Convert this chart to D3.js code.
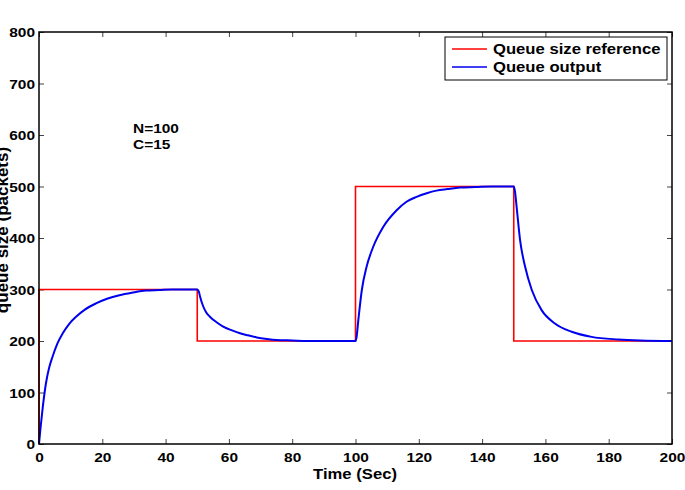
<!DOCTYPE html>
<html>
<head>
<meta charset="utf-8">
<script src="https://cdn.jsdelivr.net/npm/d3@7"></script>
<style>
  body { margin: 0; background: #fff; }
  svg { display: block; }
  text { font-family: "Liberation Sans", Arial, sans-serif; font-weight: bold; fill: #000; }
</style>
</head>
<body>
<script>
// reference queue size (step)
const refTime = [0, 0, 50, 50, 100, 100, 150, 150, 200];
const refSize = [0, 300, 300, 200, 200, 500, 500, 200, 200];

// queue output
const outTime = [0, 0.5, 1.2, 2.2, 3.2, 4.3, 5.8, 7.5, 9.5, 11.7, 14.5, 18, 21.5, 25.4, 29.5, 33.8, 38, 42, 46, 50,
  50.5, 50.9, 51.9, 52.8, 54, 56, 58.2, 60.8, 63.5, 66, 68.8, 72, 75, 80, 85, 90, 95, 100,
  100.3, 100.9, 102, 103.5, 105.6, 108.8, 113, 116, 119.3, 122.5, 125.6, 129, 133, 138, 143, 147, 150,
  150.4, 150.9, 152, 153.6, 155.7, 158.8, 163, 168.3, 174.6, 183, 190, 200];
const outSize = [0, 32, 72, 118, 148, 170, 195, 215, 233, 247, 261, 273, 282, 289, 294, 298, 299, 300, 300, 300,
  296, 286, 267, 256, 247, 237, 228, 221, 215, 211, 207, 204, 202, 201, 200, 200, 200, 200,
  206, 241, 299, 344, 383, 422, 454, 470, 480, 487, 492, 495, 498, 499, 500, 500, 500,
  490, 461, 396, 344, 299, 260, 234, 218, 208, 203, 201, 200];

const xTicks = [0, 20, 40, 60, 80, 100, 120, 140, 160, 180, 200];
const yTicks = [0, 100, 200, 300, 400, 500, 600, 700, 800];
const legendLabels = ['Queue size reference', 'Queue output'];
const notes = ['N=100', 'C=15'];

const width = 685, height = 490;
const plotLeft = 39, plotRight = 672, plotTop = 32, plotBottom = 444;
const sx = 1.19; // labels in the picture are drawn wide

const svg = d3.select('body').append('svg')
    .attr('width', width)
    .attr('height', height);

const x = d3.scaleLinear().domain([0, 200]).range([plotLeft, plotRight]);
const y = d3.scaleLinear().domain([0, 800]).range([plotBottom, plotTop]);

function wide(sel, px, py) {
    sel.attr('x', 0).attr('y', 0).attr('dy', null)
        .attr('transform', 'translate(' + px + ',' + py + ') scale(' + sx + ',1)');
}

// axes with inward ticks on all four sides
const xAxis = svg.append('g')
    .attr('transform', 'translate(0,' + plotBottom + ')')
    .call(d3.axisBottom(x).tickValues(xTicks).tickSize(-5).tickFormat(d3.format('d')));
xAxis.selectAll('text').style('font-size', '13px').each(function() { wide(d3.select(this), 0, 18); });

const yAxis = svg.append('g')
    .attr('transform', 'translate(' + plotLeft + ',0)')
    .call(d3.axisLeft(y).tickValues(yTicks).tickSize(-5).tickFormat(d3.format('d')));
yAxis.selectAll('text').style('font-size', '13px').each(function() { wide(d3.select(this), -4, 4.6); });

svg.append('g')
    .attr('transform', 'translate(0,' + plotTop + ')')
    .call(d3.axisTop(x).tickValues(xTicks).tickSize(-5).tickFormat(''));
svg.append('g')
    .attr('transform', 'translate(' + plotRight + ',0)')
    .call(d3.axisRight(y).tickValues(yTicks).tickSize(-5).tickFormat(''));

svg.selectAll('.domain').remove();
svg.selectAll('.tick line').attr('stroke', '#444').attr('stroke-width', 1);

// lines
const refLine = d3.line().x((d, i) => x(refTime[i])).y((d, i) => y(d));
const outLine = d3.line().x((d, i) => x(outTime[i])).y((d, i) => y(d)).curve(d3.curveMonotoneX);

svg.append('path')
    .attr('d', refLine(refSize))
    .attr('fill', 'none')
    .attr('stroke', '#ff0000')
    .attr('stroke-width', 1.6);

svg.append('path')
    .attr('d', outLine(outSize))
    .attr('fill', 'none')
    .attr('stroke', '#0000ee')
    .attr('stroke-width', 2);

// frame
svg.append('rect')
    .attr('x', plotLeft).attr('y', plotTop)
    .attr('width', plotRight - plotLeft).attr('height', plotBottom - plotTop)
    .attr('fill', 'none').attr('stroke', '#000').attr('stroke-width', 1.5);

// axis titles
svg.append('text')
    .attr('text-anchor', 'middle')
    .style('font-size', '14px')
    .text('Time (Sec)')
    .call(wide, 355, 479);

// sits partly off the left edge, as in the source figure
svg.append('text')
    .attr('text-anchor', 'middle')
    .style('font-size', '17px')
    .attr('transform', 'translate(8,230) rotate(-90)')
    .text('queue size (packets)');

// annotations
svg.selectAll('.note')
    .data(notes)
    .enter()
    .append('text')
    .attr('class', 'note')
    .style('font-size', '13px')
    .text(d => d)
    .each(function(d, i) { wide(d3.select(this), 133, 133 + i * 16); });

// legend
const legend = svg.append('g');
legend.append('rect')
    .attr('x', 445).attr('y', 37)
    .attr('width', 222).attr('height', 43)
    .attr('fill', '#fff').attr('stroke', '#000').attr('stroke-width', 1);

const legendColors = ['#ff0000', '#0000ee'];
legend.selectAll('line')
    .data(legendLabels)
    .enter()
    .append('line')
    .attr('x1', 452).attr('x2', 487)
    .attr('y1', (d, i) => 49 + i * 18)
    .attr('y2', (d, i) => 49 + i * 18)
    .attr('stroke', (d, i) => legendColors[i])
    .attr('stroke-width', 1.6);

legend.selectAll('text')
    .data(legendLabels)
    .enter()
    .append('text')
    .style('font-size', '14px')
    .text(d => d)
    .each(function(d, i) { wide(d3.select(this), 493, 54 + i * 18); });
</script>
</body>
</html>
